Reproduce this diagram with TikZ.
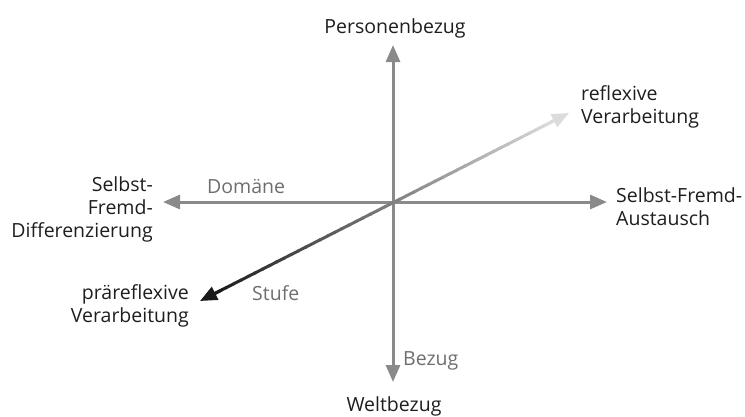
\documentclass[tikz,border=0pt]{standalone}
\usepackage{fontspec}
\setmainfont{Open Sans}
\usetikzlibrary{arrows.meta,calc}
\definecolor{axisgray}{HTML}{8A8A8A}
\definecolor{labelgray}{HTML}{6E6E6E}
\definecolor{textdark}{HTML}{1E1E1E}
\definecolor{diagdark}{HTML}{1A1A1A}
\definecolor{diaglight}{HTML}{DCDCDC}
\begin{document}
\begin{tikzpicture}[x=1pt,y=-1pt,
		axis/.style={draw=axisgray, line width=3pt, -{Triangle[length=17pt,width=14pt]}},
		diag/.style={line width=3pt},
		pole/.style={inner sep=0pt, text=textdark, font=\fontsize{19.5}{23}\selectfont},
		dimlabel/.style={inner sep=0pt, text=labelgray, font=\fontsize{19.5}{23}\selectfont}]
		\useasboundingbox (0,0) rectangle (745,416);
		\coordinate (O) at (393,202);
		\coordinate (N) at (393,45);
		\coordinate (S) at (393,382);
		\coordinate (W) at (163,202);
		\coordinate (E) at (607,202);
		\coordinate (SW) at (200,301);
		\coordinate (NE) at (569,113);
		\draw[axis] (O) -- (N);
		\draw[axis] (O) -- (S);
		\draw[axis] (O) -- (W);
		\draw[axis] (O) -- (E);
		\foreach \i in {0,...,47} {
			\pgfmathsetmacro\pct{100-\i*100/47}
			\draw[diag, draw=diagdark!\pct!diaglight] ($(SW)!{0.03+\i*0.94/48}!(NE)$) -- ($(SW)!{0.03+(\i+1.2)*0.94/48}!(NE)$);
		}
		\draw[diag, draw=diagdark, -{Triangle[length=17pt,width=14pt]}] ($(SW)!0.06!(NE)$) -- (SW);
		\draw[diag, draw=diaglight, -{Triangle[length=17pt,width=14pt]}] ($(SW)!0.94!(NE)$) -- (NE);
		\node[pole, anchor=base] (pb) at (395,33) {Personenbezug};
		\node[pole, anchor=base] (wb) at (394,411) {Weltbezug};
		\node[pole, anchor=base east, align=right] (sfd) at (153,237) {Selbst-\\Fremd-\\Differenzierung};
		\node[pole, anchor=base west, align=left] (sfa) at (616,225) {Selbst-Fremd-\\Austausch};
		\node[pole, anchor=base west, align=left] (rv) at (581,123) {reflexive\\Verarbeitung};
		\node[pole, anchor=base east, align=right] (pv) at (189,322) {präreflexive\\Verarbeitung};
		\node[dimlabel, anchor=base west] (dom) at (207,193) {Domäne};
		\node[dimlabel, anchor=base west] (stu) at (252,300) {Stufe};
		\node[dimlabel, anchor=base west] (bez) at (403,365) {Bezug};
	\end{tikzpicture}
\end{document}
